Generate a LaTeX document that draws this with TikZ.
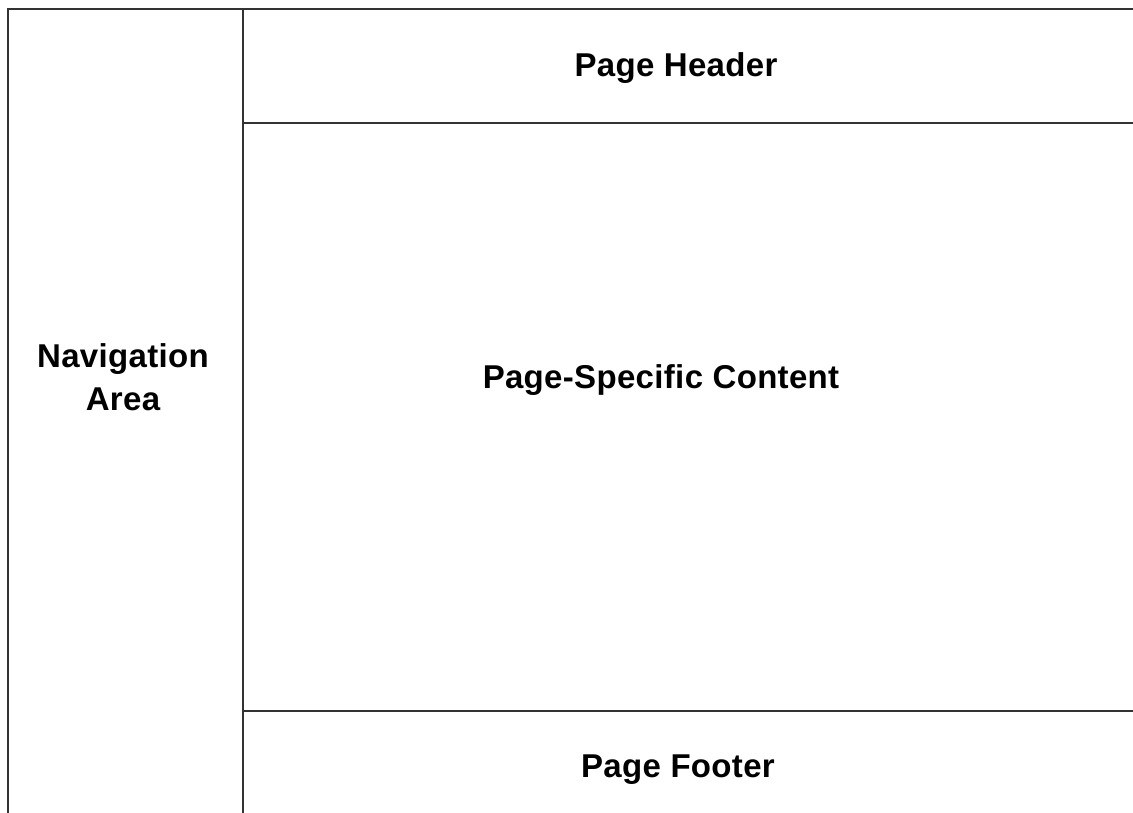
\documentclass[tikz,border=0pt]{standalone}
\usepackage{fontspec}
\setmainfont{Liberation Sans}[LetterSpace=1]
\begin{document}
\begin{tikzpicture}[x=1pt,y=-1pt,
  rule/.style={line width=2pt,draw=black!80},
  lbl/.style={font=\fontsize{33}{43}\selectfont\bfseries,anchor=base,inner sep=0pt,align=center}]
\useasboundingbox (0,0) rectangle (1133,813);
\coordinate (tl) at (8,9);
\coordinate (tr) at (1133,9);
\coordinate (bl) at (8,813);
\coordinate (mt) at (243,9);
\coordinate (mb) at (243,813);
\coordinate (hl) at (243,123);
\coordinate (hr) at (1133,123);
\coordinate (fl) at (243,711);
\coordinate (fr) at (1133,711);
\draw[rule] (bl) -- (tl) -- (tr);
\draw[rule] (mt) -- (mb);
\draw[rule] (hl) -- (hr);
\draw[rule] (fl) -- (fr);
\node[lbl] (header) at (676,77) {Page Header};
\node[lbl] (content) at (661,388) {Page-Specific Content};
\node[lbl] (footer) at (678,777) {Page Footer};
\node[lbl] (nav1) at (123,367) {Navigation};
\node[lbl] (nav2) at (123,410) {Area};
\end{tikzpicture}
\end{document}
